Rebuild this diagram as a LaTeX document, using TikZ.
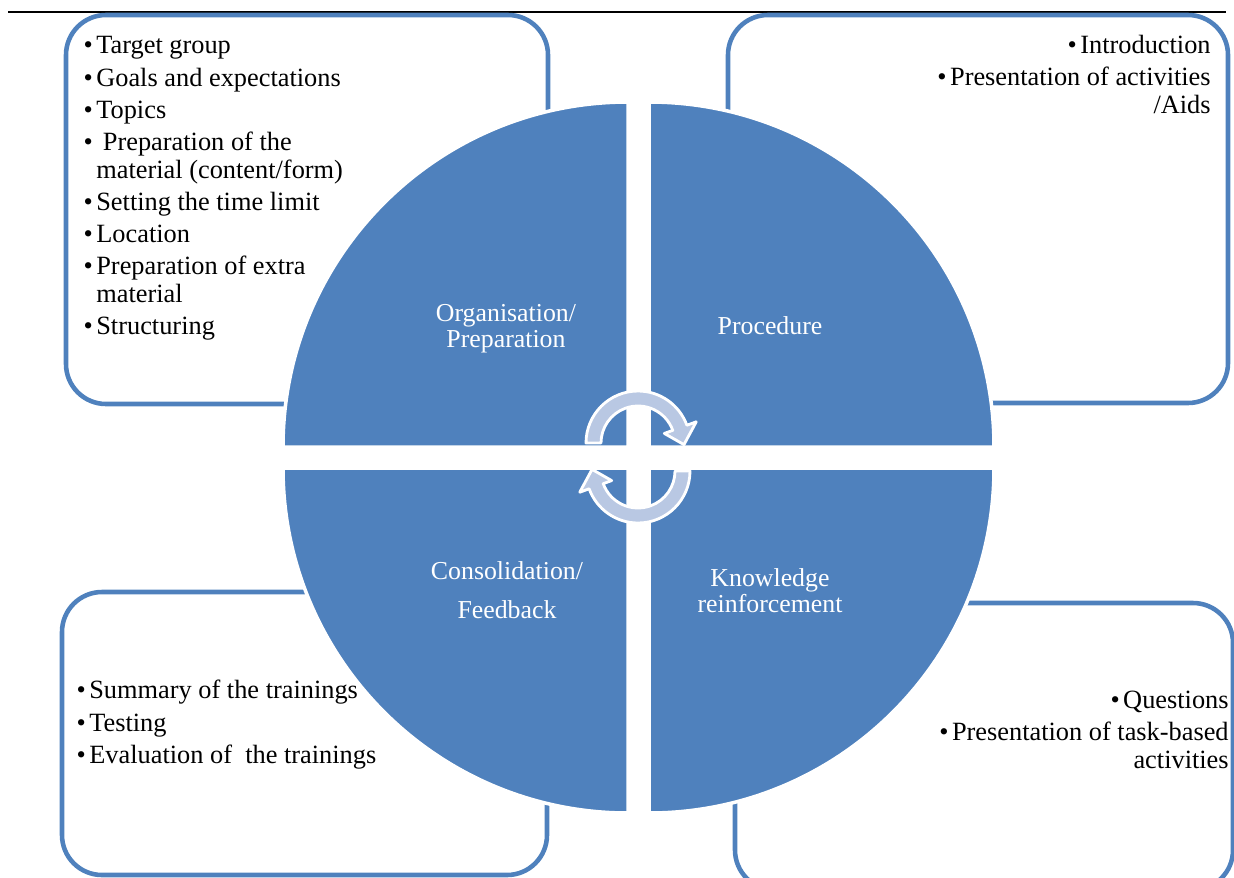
\documentclass[tikz,border=0pt]{standalone}
\usepackage{fontspec}
\setmainfont{Liberation Serif}
\usetikzlibrary{calc}

\definecolor{quadblue}{RGB}{79,129,189}
\definecolor{arrowfill}{RGB}{185,200,227}
\newcommand{\bul}{\leavevmode\llap{•\hspace{2pt}}}
\newcommand{\boxfont}{\fontsize{15}{15.8}\selectfont}
\newcommand{\phasefont}{\fontsize{14.7}{14.7}\selectfont}

\begin{document}
\begin{tikzpicture}[x=0.02cm, y=-0.02cm,
  infobox/.style={draw=quadblue, line width=2.6pt, rounded corners=0.8cm},
  quadrant/.style={fill=quadblue, draw=white, line width=2pt},
  cyclearrow/.style={fill=arrowfill, draw=white, line width=1.6pt, line join=round},
  item/.style={anchor=base west, inner sep=0pt, align=left, font=\boxfont},
  ritem/.style={anchor=base east, inner sep=0pt, align=right, font=\boxfont},
  phase/.style={anchor=base, inner sep=0pt, align=center, text=white, font=\phasefont}]
\useasboundingbox (0,0) rectangle (1234,877);

% rule
\draw[line width=1.2pt] (8,12) -- (1226,12);

% boxes
\draw[infobox] (66,15) rectangle (548,404);
\draw[infobox] (728,15) rectangle (1228,403);
\draw[infobox] (62,592) rectangle (547,875);
\draw[infobox] (735,603) rectangle (1233,890);

% quadrants
\foreach \cx/\cy/\a in {628/447/180, 649/447/270, 649/468/0, 628/468/90}
  \draw[quadrant] (\cx,\cy) -- ++(\a:345) arc[start angle=\a, end angle=\a+90, radius=345] -- cycle;

% cycle arrows
\foreach \rot in {0,180}{
  \begin{scope}[rotate around={\rot:(638,457)}]
    \coordinate (c) at (638,443);
    \draw[cyclearrow] ($(c)+(180:52)$) arc[start angle=180, end angle=340, radius=52]
      -- ($(c)+(340:62)$) -- ($(c)+(362:46)$) -- ($(c)+(340:28)$) -- ($(c)+(340:37)$)
      arc[start angle=340, end angle=180, radius=37] -- cycle;
  \end{scope}
}

% phases (base = last line)
\node[phase] (org) at (506,347) {Organisation/\\Preparation};
\node[phase] (proc) at (770,334) {Procedure};
\node[phase] (cons) at (507,618) {Consolidation/\\[7pt]Feedback};
\node[phase] (know) at (770,612) {Knowledge\\reinforcement};

% organisation
\node[item] (target) at (96,53) {\bul Target group};
\node[item] (goals) at (96,86) {\bul Goals and expectations};
\node[item] (topics) at (96,118) {\bul Topics};
\node[item] (material) at (96,178) {\bul\ Preparation of the\\material (content/form)};
\node[item] (timelimit) at (96,210) {\bul Setting the time limit};
\node[item] (location) at (96,242) {\bul Location};
\node[item] (extra) at (96,302) {\bul Preparation of extra\\material};
\node[item] (structuring) at (96,334) {\bul Structuring};

% procedure
\node[ritem] (intro) at (1211,53) {\bul Introduction};
\node[ritem] (aids) at (1211,113) {\bul Presentation of activities\\/Aids};

% consolidation
\node[item] (summary) at (89,698) {\bul Summary of the trainings};
\node[item] (testing) at (89,731) {\bul Testing};
\node[item] (evaluation) at (89,763) {\bul Evaluation of \ the trainings};

% knowledge
\node[ritem] (questions) at (1229,708) {\bul Questions};
\node[ritem] (tasks) at (1229,768) {\bul Presentation of task-based\\activities};
\end{tikzpicture}
\end{document}
